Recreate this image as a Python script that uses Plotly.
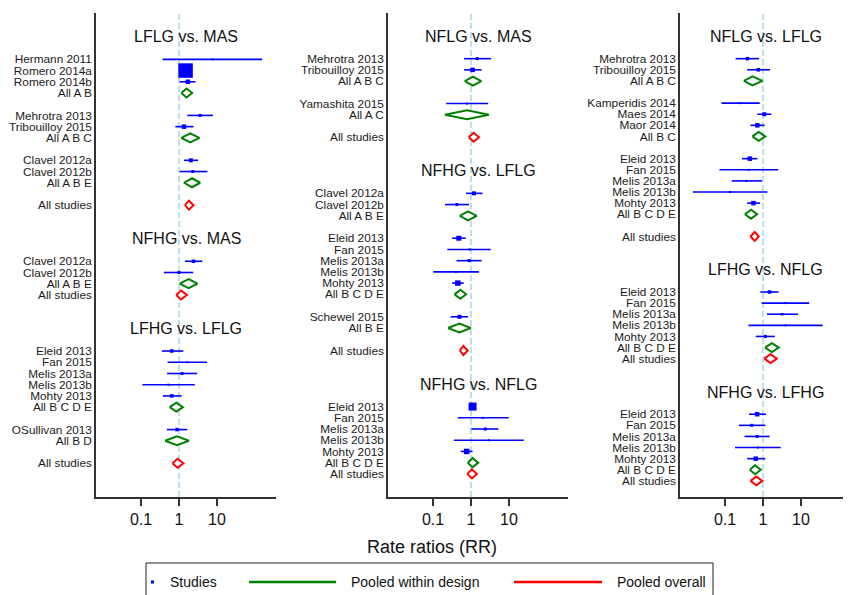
import plotly.graph_objects as go

# ---------------- data ----------------
comp_titles = ["LFLG vs. MAS", "NFHG vs. MAS", "LFHG vs. LFLG",
               "NFLG vs. MAS", "NFHG vs. LFLG", "NFHG vs. NFLG",
               "NFLG vs. LFLG", "LFHG vs. NFLG", "NFHG vs. LFHG"]
comp_panel = [0, 0, 0, 1, 1, 1, 2, 2, 2]

# pooled within design
design_comp = [0, 0, 0, 1, 2, 2, 3, 3, 4, 4, 4, 5, 6, 6, 6, 7, 8]
design_label = ["All A B", "All A B C", "All A B E", "All A B E", "All B C D E", "All B D",
                "All A B C", "All A C", "All A B E", "All B C D E", "All B E", "All B C D E",
                "All A B C", "All B C", "All B C D E", "All B C D E", "All B C D E"]
design_rr = [1.58, 1.97, 2.2, 1.79, 0.85, 0.887, 1.13, 0.787, 0.836, 0.527, 0.497, 1.10,
             0.527, 0.77, 0.487, 1.71, 0.62]
design_lo = [1.15, 1.15, 1.35, 1.04, 0.57, 0.43, 0.684, 0.206, 0.507, 0.368, 0.25, 0.82,
             0.314, 0.527, 0.333, 1.13, 0.45]
design_hi = [2.22, 3.45, 3.6, 3.06, 1.27, 1.82, 1.86, 2.94, 1.41, 0.74, 0.98, 1.55,
             0.96, 1.15, 0.70, 2.61, 0.87]

# individual studies
study_design = [0, 0, 0, 1, 1, 2, 2,
                3, 3,
                4, 4, 4, 4, 4, 5,
                6, 6, 7,
                8, 8, 9, 9, 9, 9, 9, 10,
                11, 11, 11, 11, 11,
                12, 12, 13, 13, 13, 14, 14, 14, 14, 14,
                15, 15, 15, 15, 15,
                16, 16, 16, 16, 16]
study_name = ["Hermann 2011", "Romero 2014a", "Romero 2014b", "Mehrotra 2013", "Tribouilloy 2015",
              "Clavel 2012a", "Clavel 2012b",
              "Clavel 2012a", "Clavel 2012b",
              "Eleid 2013", "Fan 2015", "Melis 2013a", "Melis 2013b", "Mohty 2013", "OSullivan 2013",
              "Mehrotra 2013", "Tribouilloy 2015", "Yamashita 2015",
              "Clavel 2012a", "Clavel 2012b", "Eleid 2013", "Fan 2015", "Melis 2013a", "Melis 2013b",
              "Mohty 2013", "Schewel 2015",
              "Eleid 2013", "Fan 2015", "Melis 2013a", "Melis 2013b", "Mohty 2013",
              "Mehrotra 2013", "Tribouilloy 2015", "Kamperidis 2014", "Maes 2014", "Maor 2014",
              "Eleid 2013", "Fan 2015", "Melis 2013a", "Melis 2013b", "Mohty 2013",
              "Eleid 2013", "Fan 2015", "Melis 2013a", "Melis 2013b", "Mohty 2013",
              "Eleid 2013", "Fan 2015", "Melis 2013a", "Melis 2013b", "Mohty 2013"]
study_rr = [7.7, 1.49, 1.71, 3.6, 1.35, 2.05, 2.3,
            2.41, 1.0,
            0.644, 1.65, 1.2, 0.527, 0.644, 0.887,
            1.46, 1.10, 0.787,
            1.20, 0.423, 0.477, 0.92, 0.887, 0.40, 0.45, 0.497,
            1.10, 2.05, 2.36, 2.94, 0.77,
            0.39, 0.755, 0.257, 1.08, 0.71, 0.45, 0.42, 0.368, 0.135, 0.56,
            1.49, 3.89, 3.19, 3.89, 1.15,
            0.70, 0.507, 0.70, 0.726, 0.644]
study_lo = [0.37, 1.3, 1.04, 1.65, 0.80, 1.35, 1.04,
            1.43, 0.40,
            0.354, 0.50, 0.487, 0.109, 0.376, 0.477,
            0.657, 0.657, 0.223,
            0.74, 0.206, 0.32, 0.237, 0.415, 0.102, 0.32, 0.29,
            0.95, 0.45, 1.02, 0.354, 0.538,
            0.19, 0.383, 0.081, 0.71, 0.468, 0.278, 0.0715, 0.15, 0.0144, 0.383,
            0.853, 0.92, 1.27, 0.415, 0.644,
            0.43, 0.232, 0.327, 0.183, 0.383]
study_hi = [154, 1.7, 2.72, 7.8, 2.41, 3.19, 5.6,
            4.13, 2.36,
            1.30, 5.47, 3.0, 2.61, 1.17, 1.65,
            3.38, 1.90, 2.83,
            2.01, 0.887, 0.726, 3.31, 1.90, 1.62, 0.645, 0.836,
            1.25, 9.8, 5.25, 24.5, 1.10,
            0.787, 1.52, 0.82, 1.65, 1.10, 0.71, 2.51, 0.94, 1.30, 0.836,
            2.56, 16.4, 8.3, 37.3, 2.05,
            1.20, 1.15, 1.49, 2.94, 1.15]
study_weight = [2, 14.5, 4.5, 3, 4.5, 4, 3,
                3.5, 3,
                3.5, 2, 3, 2, 3.5, 3.5,
                3, 4.5, 2,
                4, 3, 5, 2, 3, 2, 5.5, 4,
                8, 2, 3, 2, 5.5,
                3.5, 3.5, 2, 4, 4.5, 4.5, 2, 2, 2, 4.5,
                3.5, 2, 2.5, 2, 3,
                4.5, 3, 3, 2, 4.5]

# pooled overall (one per comparison)
overall_rr = [1.82, 1.13, 0.92, 1.17, 0.63, 1.06, 0.607, 1.58, 0.67]
overall_lo = [1.43, 0.85, 0.67, 0.87, 0.507, 0.80, 0.468, 1.08, 0.468]
overall_hi = [2.41, 1.62, 1.30, 1.62, 0.82, 1.43, 0.77, 2.32, 0.96]

tick_vals = [0.1, 1, 10]
tick_text = ["0.1", "1", "10"]
x_title = "Rate ratios (RR)"
legend_labels = ["Studies", "Pooled within design", "Pooled overall"]

# ---------------- styles ----------------
FONT = "Liberation Sans, Arial, sans-serif"
BLUE, GREEN, RED = "#0000FF", "#008000", "#FF0000"
W, H = 851, 595
OFF = 8  # page body margin in the browser


def px_x(px):
    return (px - OFF) / W


def px_y(py):
    return 1 - (py - OFF) / H


panel_px = [(96, 276), (388, 568), (680, 851)]
y_top_px, y_bot_px = 13, 497
y_ranges = [[39.01, -4.13], [39.06, -4.07], [39.45, -4.11]]
DEC = 38.0          # px per decade
HALF_H = 0.4        # diamond half height (rows)

# ---------------- layout rows ----------------
rows_title, rows_design, rows_study, rows_overall = {}, {}, {}, {}
for p in range(3):
    r = -2
    for c in [i for i in range(len(comp_titles)) if comp_panel[i] == p]:
        rows_title[c] = r
        r += 2
        ds = [d for d in range(len(design_comp)) if design_comp[d] == c]
        for k, d in enumerate(ds):
            for s in [i for i in range(len(study_design)) if study_design[i] == d]:
                rows_study[s] = r
                r += 1
            rows_design[d] = r
            r += 1
            if k < len(ds) - 1:
                r += 1
        if len(ds) > 1:
            r += 1
        rows_overall[c] = r
        r += 3

fig = go.Figure()
annotations = []
shapes = []

for p in range(3):
    xa = "x" if p == 0 else f"x{p+1}"
    ya = "y" if p == 0 else f"y{p+1}"
    comps = [i for i in range(len(comp_titles)) if comp_panel[i] == p]
    studies = [s for s in range(len(study_design)) if comp_panel[design_comp[study_design[s]]] == p]
    designs = [d for d in range(len(design_comp)) if comp_panel[design_comp[d]] == p]

    # CI lines
    lx, ly = [], []
    for s in studies:
        lx += [study_lo[s], study_hi[s], None]
        ly += [rows_study[s], rows_study[s], None]
    fig.add_trace(go.Scatter(x=lx, y=ly, mode="lines", line=dict(color=BLUE, width=1.6),
                             xaxis=xa, yaxis=ya, showlegend=False, hoverinfo="skip"))
    fig.add_trace(go.Scatter(x=[study_rr[s] for s in studies], y=[rows_study[s] for s in studies],
                             mode="markers",
                             marker=dict(symbol="square", color=BLUE, opacity=1,
                                         size=[study_weight[s] for s in studies], line=dict(width=0)),
                             xaxis=xa, yaxis=ya, showlegend=False))

    def diamonds(rr, lo, hi, rows, color):
        dx, dy = [], []
        for e, l, h, rw in zip(rr, lo, hi, rows):
            dx += [l, e, h, e, l, None]
            dy += [rw, rw - HALF_H, rw, rw + HALF_H, rw, None]
        fig.add_trace(go.Scatter(x=dx, y=dy, mode="lines", fill="toself", fillcolor="white",
                                 line=dict(color=color, width=2), xaxis=xa, yaxis=ya,
                                 showlegend=False, hoverinfo="skip"))

    diamonds([design_rr[d] for d in designs], [design_lo[d] for d in designs],
             [design_hi[d] for d in designs], [rows_design[d] for d in designs], GREEN)
    diamonds([overall_rr[c] for c in comps], [overall_lo[c] for c in comps],
             [overall_hi[c] for c in comps], [rows_overall[c] for c in comps], RED)

    # row labels as y-axis tick labels
    tv, tt = [], []
    for s in studies:
        tv.append(rows_study[s]); tt.append(study_name[s])
    for d in designs:
        tv.append(rows_design[d]); tt.append(design_label[d])
    for c in comps:
        tv.append(rows_overall[c]); tt.append("All studies")
        annotations.append(dict(text=comp_titles[c], x=0.5, xref=f"{xa} domain", y=rows_title[c],
                                yref=ya, xanchor="center", yanchor="middle", showarrow=False,
                                font=dict(family=FONT, size=16, color="#111")))

    x0, x1 = panel_px[p]
    lo_log = -83.0 / DEC
    hi_log = lo_log + (x1 - x0) / DEC
    fig.layout[xa.replace("x", "xaxis")] = dict(
        domain=[px_x(x0), min(1, px_x(x1))], type="log", range=[lo_log, hi_log], anchor=ya,
        tickvals=tick_vals, ticktext=tick_text, ticks="outside", ticklen=7, tickwidth=1.5,
        tickcolor="#333", showline=True, linecolor="#333", linewidth=1.5, showgrid=False,
        zeroline=False, tickfont=dict(family=FONT, size=16, color="#111"), fixedrange=True)
    fig.layout[ya.replace("y", "yaxis")] = dict(
        domain=[px_y(y_bot_px), px_y(y_top_px)], range=y_ranges[p], anchor=xa,
        showline=True, linecolor="#333", linewidth=1.5, showgrid=False, zeroline=False,
        tickvals=tv, ticktext=tt, ticks="", ticklabelstandoff=0,
        tickfont=dict(family=FONT, size=11.8, color="#1a1a1a"), fixedrange=True)

    shapes.append(dict(type="line", xref=xa, yref=f"{ya} domain", x0=1, x1=1, y0=0, y1=1,
                       line=dict(color="#ADD8E6", width=1.6, dash="6px,3px"), layer="below"))

# x title
annotations.append(dict(text=x_title, x=px_x(432), y=px_y(547), xref="paper", yref="paper",
                        xanchor="center", yanchor="middle", showarrow=False,
                        font=dict(family=FONT, size=18, color="#111")))

# legend box (manual)
shapes.append(dict(type="rect", xref="paper", yref="paper", x0=px_x(146), x1=px_x(713),
                   y0=-0.1, y1=px_y(563), line=dict(color="#222", width=1)))
shapes.append(dict(type="rect", xref="paper", yref="paper", x0=px_x(151), x1=px_x(154),
                   y0=px_y(583.5), y1=px_y(580.5), fillcolor=BLUE, line=dict(width=0)))
shapes.append(dict(type="line", xref="paper", yref="paper", x0=px_x(249), x1=px_x(336),
                   y0=px_y(582), y1=px_y(582), line=dict(color=GREEN, width=2.5)))
shapes.append(dict(type="line", xref="paper", yref="paper", x0=px_x(514), x1=px_x(602),
                   y0=px_y(582), y1=px_y(582), line=dict(color=RED, width=2.5)))
for txt, xp in zip(legend_labels, [168, 349, 615]):
    annotations.append(dict(text=txt, x=px_x(xp), y=px_y(582), xref="paper", yref="paper",
                            xanchor="left", yanchor="middle", showarrow=False,
                            font=dict(family=FONT, size=14, color="#111")))

fig.update_layout(width=W, height=H, margin=dict(l=0, r=0, t=0, b=0),
                  paper_bgcolor="white", plot_bgcolor="white", showlegend=False,
                  annotations=annotations, shapes=shapes)
fig.write_html("out.html")
